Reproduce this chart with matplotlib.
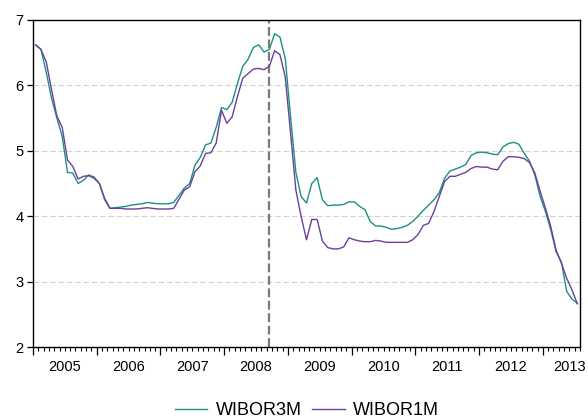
import matplotlib
matplotlib.use("Agg")
import matplotlib.pyplot as plt
import matplotlib.transforms as mtransforms
from matplotlib.ticker import FixedLocator, NullFormatter

plt.rcParams['font.family'] = ['Liberation Sans', 'DejaVu Sans']

start_year = 2005
years = [2005, 2006, 2007, 2008, 2009, 2010, 2011, 2012, 2013]

wibor3m = [6.62, 6.55, 6.20, 5.80, 5.50, 5.22, 4.67, 4.66, 4.50, 4.55, 4.63, 4.60,
           4.50, 4.25, 4.12, 4.13, 4.14, 4.15, 4.17, 4.18, 4.19, 4.21, 4.20, 4.19,
           4.19, 4.19, 4.21, 4.32, 4.43, 4.50, 4.78, 4.90, 5.09, 5.12, 5.36, 5.66,
           5.63, 5.74, 6.03, 6.29, 6.40, 6.58, 6.62, 6.51, 6.55, 6.79, 6.74, 6.41,
           5.52, 4.67, 4.30, 4.20, 4.50, 4.59, 4.25, 4.16, 4.17, 4.17, 4.18, 4.22,
           4.22, 4.15, 4.10, 3.92, 3.85, 3.85, 3.83, 3.80, 3.81, 3.83, 3.86, 3.92,
           4.00, 4.09, 4.17, 4.25, 4.36, 4.58, 4.69, 4.72, 4.75, 4.79, 4.93, 4.97,
           4.98, 4.97, 4.95, 4.94, 5.06, 5.11, 5.13, 5.10, 4.96, 4.84, 4.63, 4.30,
           4.07, 3.79, 3.46, 3.30, 2.85, 2.73, 2.67]

wibor1m = [6.62, 6.55, 6.36, 5.93, 5.53, 5.36, 4.86, 4.76, 4.57, 4.61, 4.62, 4.58,
           4.50, 4.27, 4.12, 4.12, 4.12, 4.11, 4.11, 4.11, 4.12, 4.13, 4.12, 4.11,
           4.11, 4.11, 4.12, 4.26, 4.40, 4.45, 4.68, 4.77, 4.96, 4.97, 5.12, 5.62,
           5.42, 5.52, 5.83, 6.11, 6.18, 6.25, 6.26, 6.24, 6.29, 6.53, 6.47, 6.13,
           5.27, 4.40, 3.99, 3.64, 3.95, 3.95, 3.62, 3.52, 3.50, 3.50, 3.53, 3.67,
           3.64, 3.62, 3.61, 3.61, 3.63, 3.62, 3.60, 3.60, 3.60, 3.60, 3.60, 3.64,
           3.72, 3.86, 3.89, 4.07, 4.30, 4.53, 4.61, 4.61, 4.64, 4.67, 4.73, 4.76,
           4.75, 4.75, 4.72, 4.71, 4.84, 4.91, 4.91, 4.90, 4.88, 4.82, 4.66, 4.38,
           4.12, 3.84, 3.48, 3.28, 3.05, 2.87, 2.66]

# event marker: September 2008 observation
event_year, event_month = 2008, 9

n = len(wibor3m)
t = [i + 0.5 for i in range(n)]
t_end = n

fig = plt.figure(figsize=(5.88, 4.2), dpi=100)
ax = fig.add_axes([0.0561, 0.1738, 0.9303, 0.7786])

ax.plot(t, wibor3m, color='#1a9184', lw=1.0, label='WIBOR3M', zorder=3)
ax.plot(t, wibor1m, color='#6c3f99', lw=1.0, label='WIBOR1M', zorder=3)

ev = (event_year - start_year) * 12 + (event_month - 1) + 0.5
ax.axvline(ev, color='#7a7a7a', lw=1.6, linestyle=(0, (4, 1.6)), zorder=2)

ax.set_xlim(0, t_end)
ax.set_ylim(2, 7)
ax.set_yticks([2, 3, 4, 5, 6, 7])
for yv in [3, 4, 5, 6]:
    ax.axhline(yv, color='#d2d2d2', lw=0.8, linestyle=(0, (5, 2.5)), zorder=1)

year_starts = [(y - start_year) * 12 for y in years]
ax.xaxis.set_major_locator(FixedLocator(year_starts))
ax.xaxis.set_major_formatter(NullFormatter())
months = [m for m in range(0, t_end + 1) if m % 12 != 0]
ax.xaxis.set_minor_locator(FixedLocator(months))
ax.tick_params(axis='x', which='major', length=6, width=0.9, direction='out', color='black')
ax.tick_params(axis='x', which='minor', length=3, width=0.8, direction='out', color='black')
ax.tick_params(axis='y', which='major', length=4, width=0.9, direction='out', labelsize=10.5, pad=3)

trans = mtransforms.blended_transform_factory(ax.transData, ax.transAxes)
for y, s in zip(years, year_starts):
    c = s + 6
    if c > t_end - 2:
        c = t_end - 2
    ax.text(c, -0.062, str(y), transform=trans, ha='center', va='center', fontsize=10.5)

for sp in ax.spines.values():
    sp.set_color('black')
    sp.set_linewidth(1.0)

leg = fig.legend(loc='center', bbox_to_anchor=(0.522, 0.022), ncol=2, frameon=False,
                 fontsize=13, handlelength=1.8, handletextpad=0.45, columnspacing=0.6)

fig.savefig('out.png', dpi=100)
